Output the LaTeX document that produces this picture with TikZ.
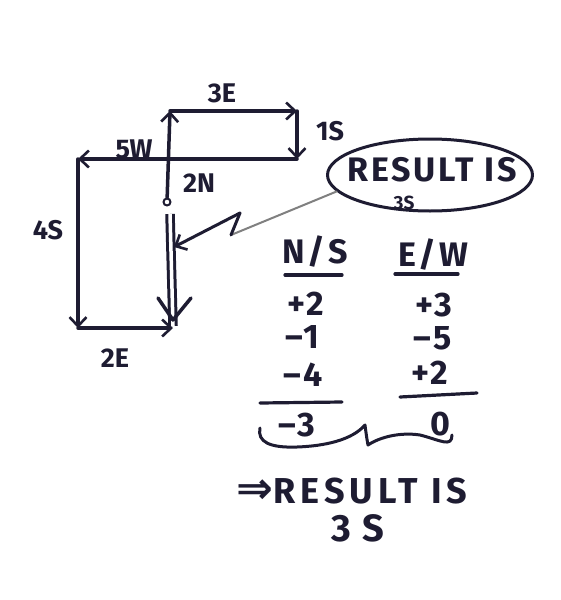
\documentclass[tikz,border=0pt]{standalone}
\usepackage{fontspec}
\setmainfont{Fira Sans}
\newfontfamily\symfont{DejaVu Sans}
\usetikzlibrary{arrows.meta,shapes.geometric}
\definecolor{ink}{RGB}{30,28,50}
\begin{document}
\begin{tikzpicture}[x=1pt,y=-1pt, line width=3.5pt, line cap=round, line join=round, draw=ink,
  lbl/.style={font=\fontsize{27}{29}\selectfont\bfseries, text=ink, inner sep=1pt},
  tab/.style={font=\fontsize{34}{36}\selectfont\bfseries\addfontfeature{LetterSpace=8}, text=ink, inner sep=1pt},
  big/.style={font=\fontsize{36}{38}\selectfont\bfseries\addfontfeature{LetterSpace=14}, text=ink, inner sep=1pt},
  arr/.style={draw=ink, -{Straight Barb[length=9pt,width=17pt,line width=2.6pt]}},
  rule/.style={draw=ink, line width=3.2pt}]
\fill[white] (0,0) rectangle (560,600);
\useasboundingbox (0,0) rectangle (560,600);
% path points
\node[circle, draw=ink, line width=2pt, minimum size=7pt, inner sep=0pt] (start) at (167,202) {};
\coordinate (a) at (170,111);
\coordinate (b) at (297,111);
\coordinate (c) at (297,159);
\coordinate (d) at (78,159);
\coordinate (e) at (78,328);
\coordinate (f) at (173,328);
\draw[arr] (start) -- (a);
\draw[arr] (a) -- (b);
\draw[arr] (b) -- (c);
\draw[arr] (c) -- (d);
\draw[arr] (d) -- (e);
\draw[arr] (e) -- (f);
% resultant
\coordinate (r0) at (170,214);
\coordinate (r1) at (173,320);
\draw[draw=ink, double=white, double distance=3.5pt, line width=3pt, line cap=butt] (r0) -- ([yshift=-6pt]r1);
\draw[draw=ink, line width=3.5pt] (158,298) -- (r1) -- (191,298);
% labels
\node[lbl] (l3e) at (222,93) {3E};
\node[lbl] (l1s) at (330,131) {1S};
\node[lbl] (l5w) at (134,149) {5W};
\node[lbl] (l2n) at (199,183) {2N};
\node[lbl] (l4s) at (48,230) {4S};
\node[lbl] (l2e) at (115,358) {2E};
% ellipse callout
\node[ellipse, draw=ink, line width=3pt, minimum width=205pt, minimum height=72pt] (ell) at (430,175) {};
\node[lbl, font=\fontsize{34}{36}\selectfont\bfseries\addfontfeature{LetterSpace=8}] (res1) at (432,170) {RESULT IS};
\node[lbl, font=\fontsize{19}{21}\selectfont\bfseries] (res2) at (404,203) {3S};
\coordinate (z1) at (231,235);
\coordinate (z2) at (240,213);
\coordinate (zt) at (174,247);
\draw[draw=gray, line width=2pt] (ell.190) -- (z1);
\draw[draw=ink, line width=3pt] (z1) -- (z2);
\draw[arr, line width=3pt] (z2) -- (zt);
% table
\node[tab] (hns) at (315,252) {N/S};
\node[tab] (hew) at (433,255) {E/W};
\draw[rule] (285,275) -- (342,275);
\draw[rule] (395,274) -- (458,274);
\node[tab] (n1) at (306,304) {+2};
\node[tab] (e1) at (434,305) {+3};
\node[tab] (n2) at (302,337) {–1};
\node[tab] (e2) at (433,338) {–5};
\node[tab] (n3) at (303,375) {–4};
\node[tab] (e3) at (430,373) {+2};
\draw[rule] (260,403) -- (342,402);
\draw[rule] (400,397) -- (477,393);
\node[tab] (n4) at (297,425) {–3};
\node[tab] (e4) at (440,424) {0};
% brace
\draw[draw=ink, line width=3pt] (260,428) .. controls (257,442) and (270,448) .. (297,447)
  .. controls (325,446) and (352,440) .. (365,425)
  .. controls (366,433) and (367,440) .. (368,445)
  .. controls (380,437) and (400,432) .. (420,435)
  .. controls (440,440) and (452,448) .. (452,435);
% bottom result
\node[big] (fin1) at (352,491) {{\symfont\bfseries\fontsize{44}{44}\selectfont ⇒}RESULT IS};
\node[big, font=\fontsize{38}{40}\selectfont\bfseries\addfontfeature{LetterSpace=28}] (fin2) at (358,528) {3S};
\end{tikzpicture}
\end{document}
